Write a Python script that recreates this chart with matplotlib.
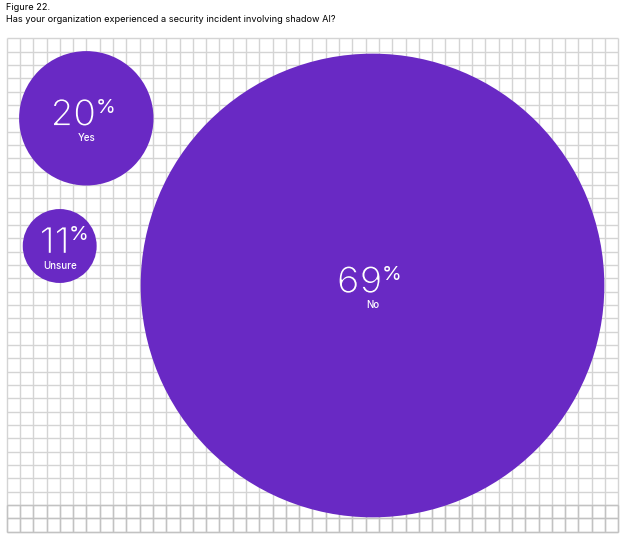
import matplotlib.pyplot as plt
import matplotlib.patheffects as pe
from matplotlib.patches import Circle

# survey answers (percent)
labels = ["Yes", "Unsure", "No"]
values = [20, 11, 69]

title_1 = "Figure 22."
title_2 = "Has your organization experienced a security incident involving shadow AI?"

PURPLE = "#6929c4"
W, H = 626, 538

# layout in pixel units: bubble centres and px per percent for the radius
centres = [(86.3, 118.3), (59.7, 246.0), (372.5, 285.5)]
px_per_pct = 3.36

fig = plt.figure(figsize=(W / 100, H / 100), dpi=100)
ax = fig.add_axes([0, 0, 1, 1])
ax.set_xlim(0, W)
ax.set_ylim(H, 0)
ax.axis("off")

# graph-paper background
x0, x1, ncols = 6.7, 618.3, 46
y0, y1, nrows = 38.3, 531.7, 37
dx = (x1 - x0) / ncols
dy = (y1 - y0) / nrows
xs = [x0 + i * dx for i in range(ncols + 1)]
ys = [y0 + j * dy for j in range(nrows + 1)]
ax.vlines(xs, y0, y1, color="#d4d4d4", lw=1.0, zorder=1)
ax.hlines(ys, x0, x1, color="#d4d4d4", lw=1.0, zorder=1)
# bottom strip a bit darker
yb = ys[-3]
ax.vlines(xs, yb, y1, color="#c2c2c2", lw=1.0, zorder=1)
ax.hlines(ys[-3:], x0, x1, color="#c2c2c2", lw=1.0, zorder=1)

font = "Inter"
# purple outline over white glyphs makes the regular weight look lighter
thin = [pe.Stroke(linewidth=1.0, foreground=PURPLE)]
for lab, val, (cx, cy) in zip(labels, values, centres):
    ax.add_patch(Circle((cx, cy), val * px_per_pct, color=PURPLE, lw=0, zorder=2))
    ax.text(cx + 10, cy + 7.5, str(val), color="white", fontsize=26.5, family=font,
            weight="normal", ha="right", va="baseline", zorder=3, path_effects=thin)
    ax.text(cx + 9, cy - 19.5, "%", color="white", fontsize=14.5, family=font,
            weight="normal", ha="left", va="top", zorder=3)
    ax.text(cx, cy + 20, lab, color="white", fontsize=7, family=font,
            weight="medium", ha="center", va="center", zorder=3)

ax.text(6.5, 8, title_1, fontsize=6.6, family=font, ha="left", va="center")
ax.text(6.5, 19, title_2, fontsize=6.6, family=font, ha="left", va="center")

fig.savefig("out.png", dpi=100)
